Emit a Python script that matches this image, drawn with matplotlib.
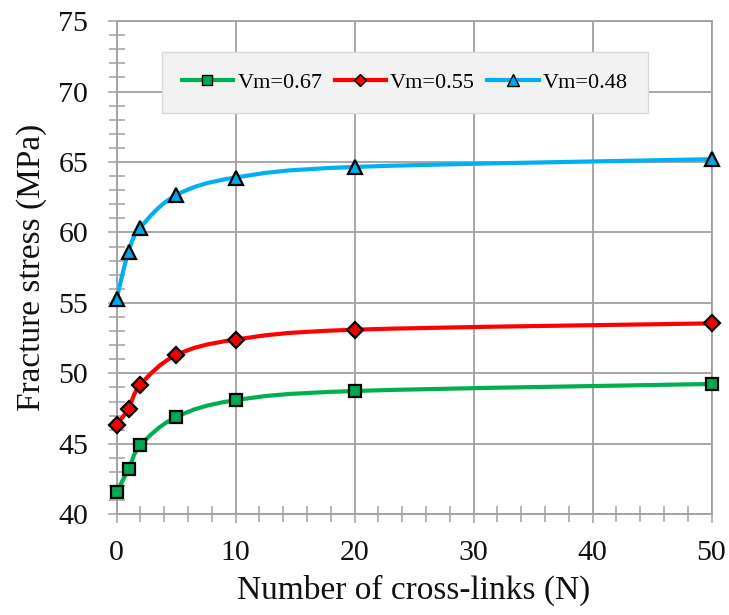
import matplotlib.pyplot as plt
import numpy as np
from matplotlib.path import Path
from matplotlib.patches import PathPatch
from matplotlib.lines import Line2D

# cross-links and fracture stress
n_links = [0, 1, 2, 5, 10, 20, 50]
vm_067 = [41.6, 43.2, 44.9, 46.9, 48.1, 48.75, 49.25]
vm_055 = [46.35, 47.5, 49.2, 51.3, 52.4, 53.1, 53.55]
vm_048 = [55.3, 58.65, 60.35, 62.65, 63.9, 64.65, 65.2]

labels = ["Vm=0.67", "Vm=0.55", "Vm=0.48"]
colors = ["#00B050", "#FF0000", "#00B0F0"]
faces = ["#00A84F", "#F00000", "#00A6E6"]
markers = ["s", "D", "^"]
msizes = [9, 8, 10]


def smooth_path(x, y):
    # excel-like smoothed line: catmull-rom turned into cubic beziers
    pts = np.column_stack([x, y]).astype(float)
    verts = [pts[0]]
    codes = [Path.MOVETO]
    n = len(pts)
    for i in range(n - 1):
        p0 = pts[max(i - 1, 0)]
        p1 = pts[i]
        p2 = pts[i + 1]
        p3 = pts[min(i + 2, n - 1)]
        c1 = p1 + (p2 - p0) / 6.0
        c2 = p2 - (p3 - p1) / 6.0
        verts += [c1, c2, p2]
        codes += [Path.CURVE4] * 3
    return Path(verts, codes)


plt.rcParams["font.family"] = ["Liberation Serif", "DejaVu Serif"]

fig = plt.figure(figsize=(7.29, 6.15), dpi=100)
ax = fig.add_axes([0.160, 0.1637, 0.816, 0.802])

handles = []
for ys, lab, c, fc, m, ms in zip([vm_067, vm_055, vm_048], labels, colors,
                                 faces, markers, msizes):
    ax.add_patch(PathPatch(smooth_path(n_links, ys), fill=False,
                           edgecolor=c, lw=3, zorder=3))
    ax.plot(n_links, ys, linestyle="none", marker=m, ms=ms,
            markerfacecolor=fc, markeredgecolor="black", mew=1.6,
            zorder=4, clip_on=False)
    handles.append(Line2D([], [], color=c, lw=3, marker=m, ms=ms * 0.8,
                          markerfacecolor=fc, markeredgecolor="black",
                          mew=1.0, label=lab))

ax.set_xlim(0, 50)
ax.set_ylim(40, 75)
ax.set_xticks(np.arange(0, 51, 10))
ax.set_yticks(np.arange(40, 76, 5))
ax.set_xticks(np.arange(0, 51, 2), minor=True)
ax.set_yticks(np.arange(40, 76, 1), minor=True)

gcol = "#A0A0A0"
ax.grid(True, which="major", color=gcol, lw=1.3)
ax.set_axisbelow(True)
for s in ax.spines.values():
    s.set_color(gcol)
    s.set_linewidth(1.3)

ax.tick_params(which="major", direction="out", length=6.5, width=1.1,
               color=gcol, labelsize=21.5, labelcolor="#111111")
ax.tick_params(axis="x", which="major", pad=12)
ax.tick_params(axis="y", which="major", pad=14)
ax.tick_params(which="minor", direction="inout", length=12, width=1.1,
               color=gcol)

ax.set_xlabel("Number of cross-links (N)", fontsize=24, labelpad=6,
              color="#111111")
ax.set_ylabel("Fracture stress (MPa)", fontsize=24, labelpad=8,
              color="#111111")

leg = ax.legend(handles=handles, loc="upper left",
                bbox_to_anchor=(0.076, 0.937), ncol=3, fontsize=16,
                frameon=True, fancybox=False, handlelength=2.3,
                columnspacing=0.55, handletextpad=0.2, borderpad=0.9,
                borderaxespad=0)
frame = leg.get_frame()
frame.set_facecolor("#F2F2F2")
frame.set_edgecolor("#D9D9D9")
frame.set_alpha(1)
frame.set_linewidth(1)

fig.savefig("out.png", dpi=100)
